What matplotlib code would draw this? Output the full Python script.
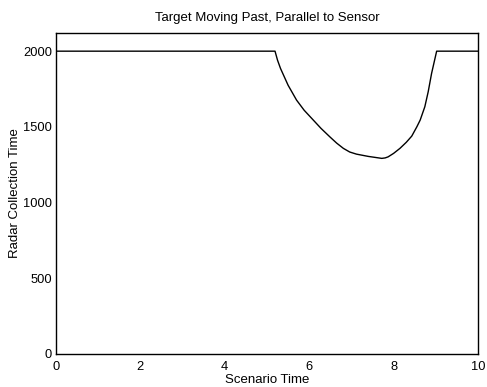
import numpy as np
import matplotlib
matplotlib.use('Agg')
import matplotlib.pyplot as plt

plt.rcParams['font.family'] = ['Liberation Sans', 'DejaVu Sans']

# values
scenario_time = [0.0, 5.19, 5.25, 5.32, 5.50, 5.70, 5.88, 6.06, 6.28, 6.49,
                 6.65, 6.81, 6.96, 7.12, 7.40, 7.72, 7.80, 7.87, 8.00, 8.15,
                 8.30, 8.43, 8.55, 8.63, 8.74, 8.82, 8.90, 9.02, 10.0]
collection_time = [2000, 2000, 1940, 1886, 1775, 1677, 1610, 1556, 1490, 1434,
                   1393, 1358, 1334, 1320, 1305, 1292, 1295, 1302, 1325, 1358,
                   1398, 1439, 1500, 1545, 1633, 1732, 1853, 2000, 2000]
xticks = [0, 2, 4, 6, 8, 10]
yticks = [0, 500, 1000, 1500, 2000]

fig = plt.figure(figsize=(4.87, 3.87), dpi=100)
ax = fig.add_axes([56/487, 1 - 354/387, 422/487, 321/387])
ax.plot(scenario_time, collection_time, color='black', linewidth=1.0)
ax.set_xlim(0, 10)
ax.set_ylim(0, 2120)
ax.set_xticks(xticks)
ax.set_yticks(yticks)
ax.tick_params(axis='y', length=0, labelsize=9.3, pad=3)
ax.tick_params(axis='x', length=0, labelsize=9.3, pad=5)
for s in ax.spines.values():
    s.set_linewidth(1.0)
ax.set_title('Target Moving Past, Parallel to Sensor', fontsize=9.5, pad=9)
ax.set_xlabel('Scenario Time', fontsize=9.5)
ax.set_ylabel('Radar Collection Time', fontsize=9.5)
ax.xaxis.set_label_coords(0.5, -0.062)
ax.yaxis.set_label_coords(-0.083, 0.5)

fig.savefig('out.png', dpi=100)
